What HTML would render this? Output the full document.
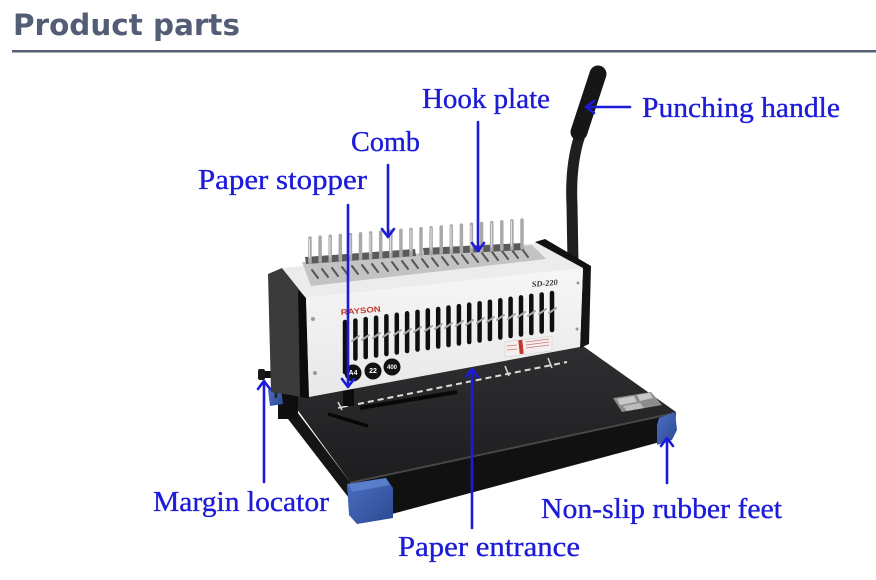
<!DOCTYPE html>
<html><head><meta charset="utf-8">
<style>
html,body{margin:0;padding:0;background:#fff;}
svg{display:block;}
</style></head>
<body>
<svg width="876" height="580" viewBox="0 0 876 580" xmlns="http://www.w3.org/2000/svg">
<defs>
<linearGradient id="plate" x1="0" y1="0" x2="0" y2="1">
<stop offset="0" stop-color="#2f2f31"/><stop offset="1" stop-color="#1d1d1f"/>
</linearGradient>
<linearGradient id="face" x1="0" y1="0" x2="0" y2="1">
<stop offset="0" stop-color="#f6f6f6"/><stop offset="1" stop-color="#e8e8e8"/>
</linearGradient>
<linearGradient id="foot" x1="0" y1="0" x2="1" y2="1">
<stop offset="0" stop-color="#4c6fc0"/><stop offset="1" stop-color="#2c4a94"/>
</linearGradient>
</defs>
<rect width="876" height="580" fill="#fff"/>

<!-- Title -->
<text x="13" y="35" font-family="DejaVu Sans, Liberation Sans, sans-serif" font-weight="bold" font-size="29" fill="#535d75" textLength="227" lengthAdjust="spacingAndGlyphs">Product parts</text>
<rect x="12" y="50" width="864" height="2.5" fill="#555f76"/>

<!-- Handle -->
<path d="M580,135 Q570,165 572,205 L573,262" stroke="#1f1f1f" stroke-width="11" fill="none" stroke-linecap="round"/>
<line x1="598" y1="74" x2="579" y2="132" stroke="#161616" stroke-width="17" stroke-linecap="round"/>

<!-- Base plate -->
<polygon points="276,384 350,482 352,502 278,406" fill="#151516"/>
<polygon points="350,482 676,412 675,432 660,442 392,514 350,502" fill="#111112"/>
<polygon points="278,383 583,346 676,412 350,482" fill="url(#plate)"/>
<polyline points="350,483 676,413" stroke="#4a4a4c" stroke-width="1.5" fill="none"/>
<rect x="278" y="385" width="20" height="34" fill="#0e0e0e"/>
<!-- feet -->
<polygon points="268,390 281,388 283,404 270,406" fill="url(#foot)"/>
<polygon points="347,484 386,478 393,488 393,518 357,524 349,515" fill="url(#foot)"/>
<polygon points="349,484 386,478 390,485 352,492" fill="#5a7dcc"/>
<polygon points="659,418 675,412 677,430 672,440 657,445 657,425" fill="url(#foot)"/>
<!-- sticker on plate -->
<polygon points="613,398 651,392 662,405 622,412" fill="#8d8d8d"/>
<polygon points="617,399 634,396 637,402 620,405" fill="#c8c8c8"/>
<polygon points="637,395 650,393 653,398 640,401" fill="#c8c8c8"/>
<polygon points="623,406 640,403 644,408 627,411" fill="#bdbdbd"/>
<!-- ruler -->
<line x1="358" y1="404" x2="567" y2="362" stroke="#dcdcdc" stroke-width="2" stroke-dasharray="6 4"/>
<line x1="505" y1="366" x2="509" y2="376" stroke="#dcdcdc" stroke-width="1.5"/>
<line x1="548" y1="358" x2="552" y2="368" stroke="#dcdcdc" stroke-width="1.5"/>
<line x1="338" y1="402" x2="342" y2="410" stroke="#dcdcdc" stroke-width="1.5"/>
<line x1="338" y1="408" x2="348" y2="406" stroke="#dcdcdc" stroke-width="1.5"/>
<line x1="360" y1="408" x2="457" y2="392" stroke="#080808" stroke-width="4"/>
<line x1="328" y1="414" x2="368" y2="426" stroke="#070707" stroke-width="3.5"/>
<rect x="343" y="389" width="11" height="17" fill="#0b0b0b"/>
<!-- margin locator knob -->
<rect x="262" y="371" width="20" height="7" rx="2" fill="#101010"/>
<rect x="258" y="369" width="7" height="11" rx="2" fill="#1a1a1a"/>
<line x1="276" y1="366" x2="276" y2="398" stroke="#2a2a2a" stroke-width="3"/>

<!-- Body -->
<polygon points="268,274 282,268 306,298 309,398 271,392" fill="#3b3b3c"/>
<polygon points="298,290 306,298 309,398 300,397" fill="#0c0c0c"/>
<polygon points="535,242 545,239 591,266 583,270" fill="#111"/>
<polygon points="583,268 591,266 589,344 580,348" fill="#141414"/>
<polygon points="282,268 537,243 583,268 306,298" fill="#ececec"/>
<polygon points="302,262 532,245 546,259 311,286" fill="#c3c3c3"/>
<polygon points="306,298 583,268 580,347 309,397" fill="url(#face)"/>

<g stroke="#555" stroke-width="2" stroke-linecap="round">
<line x1="312" y1="270" x2="318" y2="278"/><line x1="322" y1="269" x2="328" y2="277"/><line x1="332" y1="268" x2="338" y2="276"/><line x1="342" y1="267" x2="348" y2="275"/><line x1="352" y1="266" x2="358" y2="274"/><line x1="362" y1="265" x2="368" y2="273"/><line x1="372" y1="264" x2="378" y2="272"/><line x1="382" y1="263" x2="388" y2="271"/><line x1="392" y1="262" x2="398" y2="270"/><line x1="402" y1="261" x2="408" y2="269"/><line x1="412" y1="260" x2="418" y2="268"/><line x1="422" y1="259" x2="428" y2="267"/><line x1="432" y1="258" x2="438" y2="266"/><line x1="442" y1="257" x2="448" y2="265"/><line x1="452" y1="256" x2="458" y2="264"/><line x1="462" y1="255" x2="468" y2="263"/><line x1="472" y1="254" x2="478" y2="262"/><line x1="482" y1="253" x2="488" y2="261"/><line x1="492" y1="252" x2="498" y2="260"/><line x1="502" y1="251" x2="508" y2="259"/><line x1="512" y1="250" x2="518" y2="258"/><line x1="522" y1="249" x2="528" y2="257"/>
</g>
<polygon points="305,257 415,249 416,256 306,264" fill="#5a5a5a"/>
<polygon points="423,248 523,243 524,250 424,255" fill="#5a5a5a"/>
<g stroke="#a9a9a9" stroke-width="3.5" stroke-linecap="round">
<line x1="310" y1="238" x2="310" y2="262"/><line x1="320.1" y1="237.1" x2="320.1" y2="261.3"/><line x1="330.2" y1="236.3" x2="330.2" y2="260.7"/><line x1="340.3" y1="235.4" x2="340.3" y2="260"/><line x1="350.4" y1="234.6" x2="350.4" y2="259.3"/><line x1="360.5" y1="233.7" x2="360.5" y2="258.7"/><line x1="370.6" y1="232.9" x2="370.6" y2="258"/><line x1="380.7" y1="232" x2="380.7" y2="257.3"/><line x1="390.8" y1="231.1" x2="390.8" y2="256.7"/><line x1="400.9" y1="230.3" x2="400.9" y2="256"/><line x1="411" y1="229.4" x2="411" y2="255.3"/><line x1="421" y1="228.6" x2="421" y2="254.7"/><line x1="431.1" y1="227.7" x2="431.1" y2="254"/><line x1="441.2" y1="226.9" x2="441.2" y2="253.3"/><line x1="451.3" y1="226" x2="451.3" y2="252.7"/><line x1="461.4" y1="225.1" x2="461.4" y2="252"/><line x1="471.5" y1="224.3" x2="471.5" y2="251.3"/><line x1="481.6" y1="223.4" x2="481.6" y2="250.7"/><line x1="491.7" y1="222.6" x2="491.7" y2="250"/><line x1="501.8" y1="221.7" x2="501.8" y2="249.3"/><line x1="511.9" y1="220.9" x2="511.9" y2="248.7"/><line x1="522" y1="220" x2="522" y2="248"/>
</g>
<g stroke="#e2e2e2" stroke-width="1">
<line x1="309.5" y1="239" x2="309.5" y2="258"/><line x1="330" y1="237" x2="330" y2="257"/><line x1="350" y1="235" x2="350" y2="255"/><line x1="370" y1="233" x2="370" y2="254"/><line x1="390.5" y1="232" x2="390.5" y2="253"/><line x1="411" y1="230" x2="411" y2="251"/><line x1="431" y1="228" x2="431" y2="250"/><line x1="451" y1="226" x2="451" y2="249"/><line x1="471" y1="225" x2="471" y2="248"/><line x1="491.5" y1="223" x2="491.5" y2="247"/><line x1="511.5" y1="221" x2="511.5" y2="246"/>
</g>

<g stroke="#0f0f0f" stroke-width="4.5" stroke-linecap="round">
<line x1="345" y1="322" x2="345" y2="372"/><line x1="355.4" y1="320.6" x2="355.4" y2="358.5"/><line x1="365.7" y1="319.1" x2="365.7" y2="357"/><line x1="376.1" y1="317.7" x2="376.1" y2="355.5"/><line x1="386.4" y1="316.2" x2="386.4" y2="354"/><line x1="396.8" y1="314.8" x2="396.8" y2="352.5"/><line x1="407.1" y1="313.3" x2="407.1" y2="351"/><line x1="417.5" y1="311.9" x2="417.5" y2="349.5"/><line x1="427.8" y1="310.4" x2="427.8" y2="348"/><line x1="438.2" y1="309" x2="438.2" y2="346.5"/><line x1="448.5" y1="307.5" x2="448.5" y2="345"/><line x1="458.9" y1="306.1" x2="458.9" y2="343.5"/><line x1="469.2" y1="304.6" x2="469.2" y2="342"/><line x1="479.6" y1="303.2" x2="479.6" y2="340.5"/><line x1="489.9" y1="301.7" x2="489.9" y2="339"/><line x1="500.3" y1="300.3" x2="500.3" y2="337.5"/><line x1="510.6" y1="298.8" x2="510.6" y2="336"/><line x1="521" y1="297.4" x2="521" y2="334.5"/><line x1="531.3" y1="295.9" x2="531.3" y2="333"/><line x1="541.7" y1="294.5" x2="541.7" y2="331.5"/><line x1="552" y1="293" x2="552" y2="330"/>
</g>
<g stroke="#a8a8a8" stroke-width="2" stroke-linecap="round">
<line x1="352" y1="341" x2="359" y2="336"/><line x1="362" y1="340" x2="369" y2="335"/><line x1="373" y1="338" x2="380" y2="333"/><line x1="383" y1="337" x2="390" y2="332"/><line x1="394" y1="335" x2="401" y2="330"/><line x1="404" y1="334" x2="411" y2="329"/><line x1="414" y1="332" x2="421" y2="327"/><line x1="425" y1="331" x2="432" y2="326"/><line x1="435" y1="329" x2="442" y2="324"/><line x1="445" y1="328" x2="452" y2="323"/><line x1="456" y1="326" x2="463" y2="321"/><line x1="466" y1="325" x2="473" y2="320"/><line x1="477" y1="323" x2="484" y2="318"/><line x1="487" y1="322" x2="494" y2="317"/><line x1="497" y1="320" x2="504" y2="315"/><line x1="508" y1="319" x2="515" y2="314"/><line x1="518" y1="317" x2="525" y2="312"/><line x1="528" y1="316" x2="535" y2="311"/><line x1="539" y1="314" x2="546" y2="309"/><line x1="549" y1="313" x2="556" y2="308"/>
</g>
<circle cx="313" cy="319" r="2" fill="#999"/>
<circle cx="315" cy="373" r="2" fill="#999"/>
<circle cx="578" cy="283" r="1.5" fill="#999"/>
<circle cx="577" cy="329" r="1.5" fill="#999"/>
<text x="341" y="315" font-family="Liberation Sans, sans-serif" font-weight="bold" font-size="8" fill="#c0392b" textLength="40" lengthAdjust="spacingAndGlyphs" transform="rotate(-5 341 315)">RAYSON</text>
<text x="532" y="287" font-family="Liberation Serif, serif" font-style="italic" font-weight="bold" font-size="8" fill="#333" textLength="26" lengthAdjust="spacingAndGlyphs" transform="rotate(-5 532 287)">SD-220</text>
<polygon points="505,342 552,336 552,351 505,357" fill="#f4eeee" stroke="#ccc" stroke-width="0.5"/>
<rect x="519" y="340" width="4" height="14" fill="#c0392b" transform="rotate(-6 521 347)"/>
<g stroke="#c77" stroke-width="0.8">
<line x1="526" y1="342" x2="549" y2="339"/><line x1="526" y1="345" x2="549" y2="342"/><line x1="526" y1="348" x2="549" y2="345"/><line x1="507" y1="346" x2="517" y2="345"/><line x1="507" y1="350" x2="517" y2="349"/>
</g>
<circle cx="353" cy="373" r="8.5" fill="#111"/>
<circle cx="373" cy="371" r="8.5" fill="#111"/>
<circle cx="392" cy="367" r="8.5" fill="#111"/>
<text x="353" y="375" font-family="Liberation Sans, sans-serif" font-weight="bold" font-size="7" fill="#fff" text-anchor="middle">A4</text>
<text x="373" y="373" font-family="Liberation Sans, sans-serif" font-weight="bold" font-size="7" fill="#fff" text-anchor="middle">22</text>
<text x="392" y="369" font-family="Liberation Sans, sans-serif" font-weight="bold" font-size="6" fill="#fff" text-anchor="middle">400</text>

<!-- Arrows -->
<g stroke="#1c1cd8" stroke-width="2.6" fill="none" stroke-linecap="round" stroke-linejoin="round">
<line x1="630" y1="107" x2="587" y2="107"/>
<polyline points="594,101 586,107 594,113"/>
<line x1="478" y1="122" x2="478" y2="250"/>
<polyline points="472,243 478,251 484,243"/>
<line x1="388" y1="165" x2="388" y2="236"/>
<polyline points="382,229 388,237 394,229"/>
<line x1="348" y1="205" x2="348" y2="386"/>
<polyline points="342,379 348,387 354,379"/>
<line x1="264" y1="482" x2="264" y2="382"/>
<polyline points="258,389 264,381 270,389"/>
<line x1="472" y1="528" x2="472" y2="370"/>
<polyline points="466,377 472,369 478,377"/>
<line x1="667" y1="483" x2="667" y2="439"/>
<polyline points="661,446 667,438 673,446"/>
</g>

<!-- Labels -->
<g font-family="Liberation Serif, serif" font-size="28" fill="#1c1cd8" stroke="#1c1cd8" stroke-width="0.35">
<text x="422" y="108" textLength="128" lengthAdjust="spacingAndGlyphs">Hook plate</text>
<text x="642" y="117" textLength="198" lengthAdjust="spacingAndGlyphs">Punching handle</text>
<text x="351" y="151" textLength="69" lengthAdjust="spacingAndGlyphs">Comb</text>
<text x="198" y="189" textLength="169" lengthAdjust="spacingAndGlyphs">Paper stopper</text>
<text x="153" y="511" textLength="176" lengthAdjust="spacingAndGlyphs">Margin locator</text>
<text x="541" y="518" textLength="241" lengthAdjust="spacingAndGlyphs">Non-slip rubber feet</text>
<text x="398" y="556" textLength="182" lengthAdjust="spacingAndGlyphs">Paper entrance</text>
</g>
</svg>
</body></html>
